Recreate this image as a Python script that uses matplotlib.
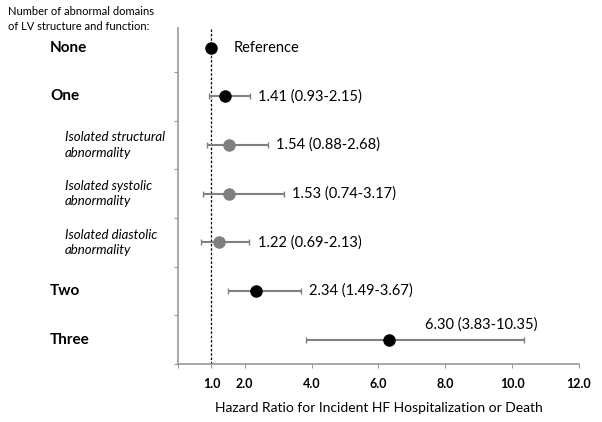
import matplotlib
matplotlib.use('Agg')
from matplotlib import pyplot as plt

groups = ['None', 'One', 'Isolated structural\nabnormality', 'Isolated systolic\nabnormality',
          'Isolated diastolic\nabnormality', 'Two', 'Three']
is_sub = [False, False, True, True, True, False, False]
hr = [1.0, 1.41, 1.54, 1.53, 1.22, 2.34, 6.30]
lower = [None, 0.93, 0.88, 0.74, 0.69, 1.49, 3.83]
upper = [None, 2.15, 2.68, 3.17, 2.13, 3.67, 10.35]
xticks = [1, 2, 4, 6, 8, 10, 12]
xtick_labels = ['1.0', '2.0', '4.0', '6.0', '8.0', '10.0', '12.0']

plt.rcParams['font.family'] = ['Lato', 'DejaVu Sans']

fig = plt.figure(figsize=(6.02, 4.22), dpi=100)
ax = fig.add_axes([0.2957, 0.1374, 0.666, 0.796])

n = len(groups)
ypos = [n - 0.5 - i for i in range(n)]
gray = '#808080'

ax.axvline(1.0, color='black', linestyle=(0, (2, 1.5)), linewidth=0.9, zorder=1)

for i in range(n):
    y = ypos[i]
    col = gray if is_sub[i] else 'black'
    if lower[i] is not None:
        ax.errorbar(hr[i], y, xerr=[[hr[i] - lower[i]], [upper[i] - hr[i]]], fmt='none',
                    ecolor=gray, elinewidth=1.5, capsize=2.5, capthick=1, zorder=2)
        txt = '%.2f (%.2f-%.2f)' % (hr[i], lower[i], upper[i])
        if i == n - 1:
            ax.annotate(txt, (upper[i], y), xytext=(10, 6), textcoords='offset points',
                        ha='right', va='bottom', fontsize=10.5)
        else:
            ax.annotate(txt, (upper[i], y), xytext=(6, 0), textcoords='offset points',
                        ha='left', va='center', fontsize=10.5)
    else:
        ax.annotate('Reference', (hr[i], y), xytext=(16, 0), textcoords='offset points',
                    ha='left', va='center', fontsize=10.5)
    ax.plot(hr[i], y, 'o', color=col, markersize=8, zorder=3)

    if is_sub[i]:
        ax.text(-0.282, y, groups[i], transform=ax.get_yaxis_transform(), ha='left', va='center',
                fontsize=9.5, style='italic', linespacing=1.35)
    else:
        ax.text(-0.319, y, groups[i], transform=ax.get_yaxis_transform(), ha='left', va='center',
                fontsize=11, fontweight='bold')

ax.set_xlim(0, 12)
ax.set_ylim(0, 6.9)
ax.set_xticks([0] + xticks)
ax.set_xticklabels([''] + xtick_labels, fontsize=9, fontweight='bold')
ax.set_yticks(range(0, 7))
ax.set_yticklabels([])
ax.tick_params(axis='both', direction='out', length=3, width=0.8, color='#999999')
ax.tick_params(axis='x', pad=7)

for s in ['top', 'right']:
    ax.spines[s].set_visible(False)
for s in ['left', 'bottom']:
    ax.spines[s].set_color('#999999')
    ax.spines[s].set_linewidth(1.2)

ax.set_xlabel('Hazard Ratio for Incident HF Hospitalization or Death', fontsize=10, labelpad=9)

fig.text(8 / 602, 1 - 19 / 422, 'Number of abnormal domains\nof LV structure and function:',
         ha='left', va='center', fontsize=8, linespacing=1.35)

fig.savefig('out.png', dpi=100)
